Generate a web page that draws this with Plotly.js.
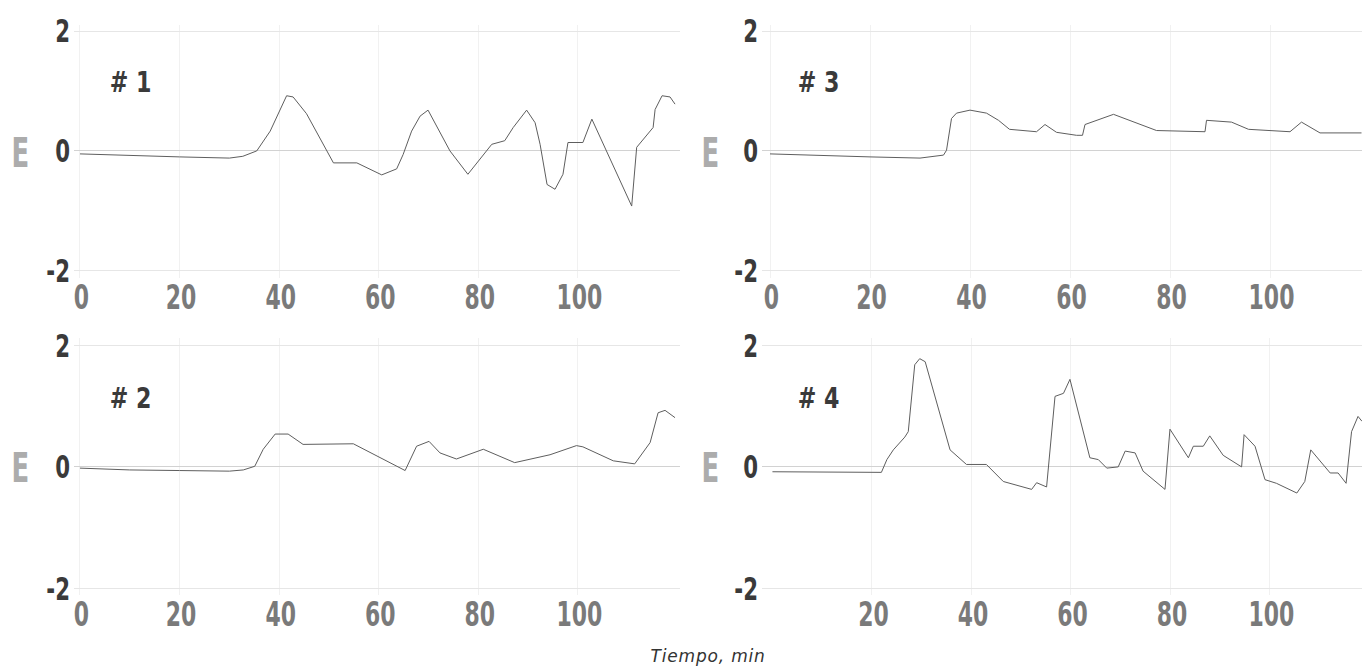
<!DOCTYPE html>
<html>
<head>
<meta charset="utf-8">
<script src="https://cdn.plot.ly/plotly-3.0.1.min.js"></script>
<style>html,body{margin:0;padding:0;background:#fff;}#chart{width:1362px;height:672px;}</style>
</head>
<body>
<div id="chart"></div>
<script>
// ---- data (time in min, E values) ----
const t1 = [0, 10, 20, 30, 32.7, 35.5, 38.2, 41.5, 42.8, 45.5, 50.9, 55.6, 60.6, 63.6, 64.9, 66.6, 68.3, 69.9, 74.3, 77.9, 82.7, 85.3, 87, 89.7, 91.4, 92.4, 93.8, 95.4, 97, 98, 101, 102.8, 110.8, 111.8, 115.1, 115.5, 116.9, 118.5, 119.5];
const e1 = [-0.05, -0.08, -0.1, -0.12, -0.09, 0.0, 0.33, 0.92, 0.9, 0.62, -0.2, -0.2, -0.4, -0.3, -0.06, 0.33, 0.58, 0.68, 0.0, -0.39, 0.11, 0.17, 0.39, 0.68, 0.47, 0.11, -0.56, -0.64, -0.39, 0.14, 0.14, 0.53, -0.92, 0.06, 0.39, 0.69, 0.92, 0.9, 0.78];

const t2 = [0, 10, 20, 30, 32.8, 35.1, 36.8, 39.2, 41.8, 44.8, 54.9, 65.3, 67.6, 70.1, 72.3, 75.6, 81, 87.3, 94.4, 99.7, 101, 107.1, 111.4, 114.5, 116.1, 117.5, 119.5];
const e2 = [-0.02, -0.05, -0.06, -0.07, -0.05, 0.01, 0.29, 0.54, 0.54, 0.37, 0.38, -0.06, 0.34, 0.42, 0.23, 0.13, 0.29, 0.07, 0.2, 0.35, 0.33, 0.1, 0.05, 0.4, 0.89, 0.93, 0.81];

const t3 = [0, 10, 20, 30, 34.7, 35.3, 36.3, 37.3, 40, 43.3, 45.7, 47.9, 53.3, 55, 57.3, 61.3, 62.5, 63, 68.7, 77.3, 87, 87.3, 92.3, 95.7, 104, 106.3, 110, 118.3];
const e3 = [-0.05, -0.08, -0.1, -0.12, -0.07, 0.01, 0.54, 0.63, 0.68, 0.63, 0.51, 0.36, 0.32, 0.44, 0.31, 0.26, 0.26, 0.44, 0.61, 0.34, 0.32, 0.51, 0.48, 0.36, 0.32, 0.48, 0.3, 0.3];

const t4 = [0, 10, 19.6, 21.9, 23, 24.3, 26.6, 27.3, 28.6, 29.6, 30.7, 35.7, 39, 43, 46.4, 52.1, 53.1, 55.1, 56.8, 58.5, 59.8, 63.8, 65.5, 67.2, 69.5, 70.9, 72.9, 74.5, 78.9, 79.9, 83.6, 84.6, 86.6, 87.9, 90.6, 94.3, 94.8, 97, 99, 101.3, 105.4, 107, 108.2, 112.1, 113.7, 115.3, 116.4, 117.7, 118.5];
const e4 = [-0.08, -0.08, -0.09, -0.09, 0.12, 0.28, 0.49, 0.58, 1.68, 1.78, 1.73, 0.28, 0.04, 0.04, -0.24, -0.37, -0.26, -0.33, 1.16, 1.21, 1.44, 0.15, 0.12, -0.02, 0.0, 0.26, 0.23, -0.07, -0.37, 0.62, 0.15, 0.34, 0.34, 0.51, 0.19, 0.0, 0.53, 0.34, -0.21, -0.27, -0.43, -0.24, 0.28, -0.1, -0.1, -0.27, 0.58, 0.83, 0.75];

const panelLabels = ['# 1', '# 2', '# 3', '# 4'];
const yTicks = [-2, 0, 2];
const xTicksFull = [0, 20, 40, 60, 80, 100];
const xTicksNoZero = [20, 40, 60, 80, 100];
const xTitle = 'Tiempo, min';
const yLabel = 'E';

// ---- styling ----
const W = 1362, H = 672;
const condensed = 'DejaVu Sans Condensed, DejaVu Sans, sans-serif';
const lineStyle = {color: '#5e5e5e', width: 1};

function trace(x, y, n) {
  return {x: x, y: y, type: 'scatter', mode: 'lines', line: lineStyle,
          xaxis: n === 1 ? 'x' : 'x' + n, yaxis: n === 1 ? 'y' : 'y' + n,
          hoverinfo: 'skip', showlegend: false};
}

function xax(domain, range, tickvals, anchor) {
  return {domain: domain, range: range, anchor: anchor, tickmode: 'array', tickvals: tickvals,
          ticktext: tickvals.map(String), ticks: '', showline: false, zeroline: false,
          showgrid: true, gridcolor: '#f1f1f1', gridwidth: 1,
          tickfont: {family: condensed, size: 33, color: '#7a7a7a', weight: 'bold'},
          ticklabelstandoff: 0, fixedrange: true};
}
function yax(domain, range, anchor) {
  return {domain: domain, range: range, anchor: anchor, tickmode: 'array', tickvals: yTicks,
          ticktext: yTicks.map(String), ticks: '', showline: false,
          zeroline: true, zerolinecolor: '#d2d2d2', zerolinewidth: 1,
          showgrid: true, gridcolor: '#e6e6e6', gridwidth: 1,
          tickfont: {family: condensed, size: 32, color: '#3a3a3a', weight: 'bold'},
          ticklabelstandoff: 3, fixedrange: true};
}

const xLeft = [74 / W, 680 / W];
const xRight = [762 / W, 1];
const yTop = [1 - 278 / H, 1 - 25 / H];
const yBot = [1 - 595 / H, 1 - 338 / H];

const data = [trace(t1, e1, 1), trace(t3, e3, 2), trace(t2, e2, 3), trace(t4, e4, 4)];

function ann(text, px, py, font) {
  return {text: text, xref: 'paper', yref: 'paper', x: px / W, y: 1 - py / H,
          xanchor: 'center', yanchor: 'middle', showarrow: false, font: font};
}
const labFont = {family: condensed, size: 29, color: '#3a3a3a', weight: 'bold'};
const eFont = {family: condensed, size: 40, color: '#acacac', weight: 'bold'};

const layout = {
  width: W, height: H, margin: {l: 0, r: 0, t: 0, b: 0},
  paper_bgcolor: '#fff', plot_bgcolor: '#fff', showlegend: false,
  xaxis: xax(xLeft, [-1.2, 120.5], xTicksFull, 'y'),
  yaxis: yax(yTop, [-2.12, 2.1], 'x'),
  xaxis2: xax(xRight, [-1.6, 118.4], xTicksFull, 'y2'),
  yaxis2: yax(yTop, [-2.12, 2.1], 'x2'),
  xaxis3: xax(xLeft, [-1.2, 120.5], xTicksFull, 'y3'),
  yaxis3: yax(yBot, [-2.107, 2.12], 'x3'),
  xaxis4: xax(xRight, [-2.1, 118.5], xTicksNoZero, 'y4'),
  yaxis4: yax(yBot, [-2.107, 2.12], 'x4'),
  annotations: [
    ann(panelLabels[0], 130, 82, labFont),
    ann(panelLabels[2], 818, 82, labFont),
    ann(panelLabels[1], 130, 398, labFont),
    ann(panelLabels[3], 818, 398, labFont),
    ann(yLabel, 20, 153, eFont),
    ann(yLabel, 710, 153, eFont),
    ann(yLabel, 20, 468, eFont),
    ann(yLabel, 710, 468, eFont),
    ann(xTitle, 708, 656, {family: 'DejaVu Sans, sans-serif', size: 17, color: '#333', style: 'italic'})
  ]
};

// narrow a text element horizontally around its own anchor point (idempotent)
function squeeze(el, sx, dx, dy) {
  const cur = el.getAttribute('transform') || '';
  if (el.__sq === cur) return;
  const x = parseFloat(el.getAttribute('x')) || 0;
  const y = parseFloat(el.getAttribute('y')) || 0;
  const nt = cur + ' translate(' + (x + (dx || 0)) + ',' + (y + (dy || 0)) + ') scale(' + sx + ',1) translate(' + (-x) + ',' + (-y) + ')';
  el.setAttribute('transform', nt);
  el.__sq = nt;
}
function applyAll() {
  const gd = document.getElementById('chart');
  gd.querySelectorAll('.xaxislayer-above text').forEach(function (el) { squeeze(el, 0.74, 1.5, -3); });
  gd.querySelectorAll('.yaxislayer-above text').forEach(function (el) { squeeze(el, 0.74, 0, 0); });
  gd.querySelectorAll('.annotation-text').forEach(function (el) {
    const s = el.textContent;
    if (s === yLabel) squeeze(el, 0.72);
    else if (s.indexOf('#') === 0) squeeze(el, 0.85);
    else el.style.letterSpacing = '0.8px';
  });
}

Plotly.newPlot('chart', data, layout, {staticPlot: true, displayModeBar: false}).then(function (gd) {
  applyAll();
  gd.on('plotly_afterplot', applyAll);
  setTimeout(applyAll, 100);
  setTimeout(applyAll, 400);
  setTimeout(applyAll, 1000);
});
</script>
</body>
</html>
